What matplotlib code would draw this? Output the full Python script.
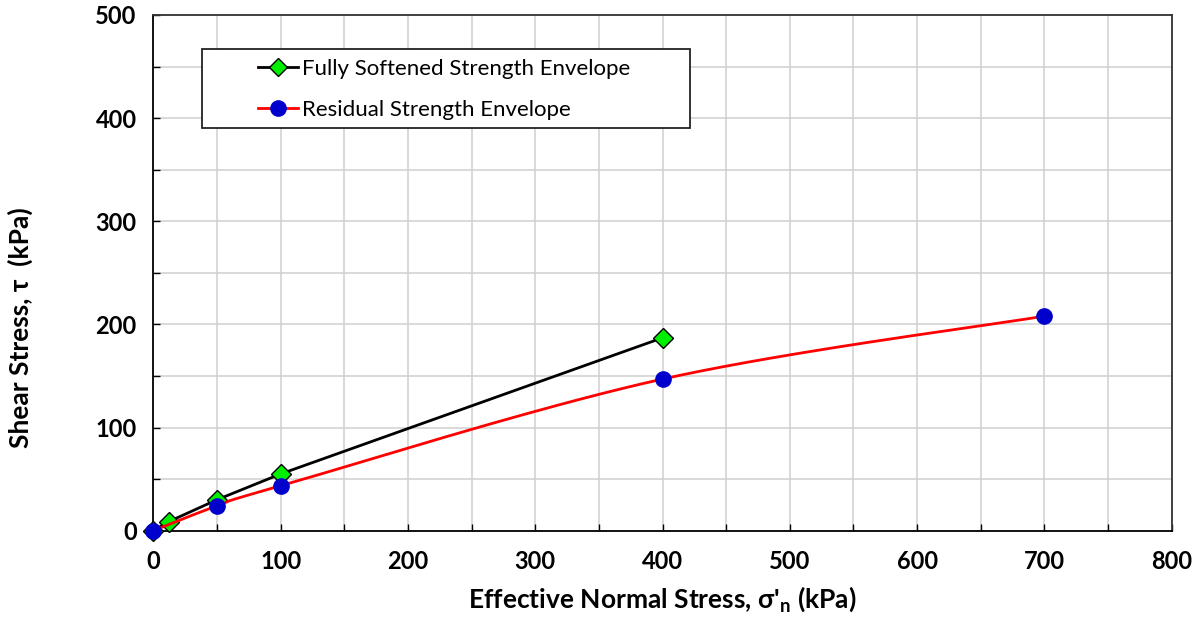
import numpy as np
import matplotlib
matplotlib.use("Agg")
import matplotlib.pyplot as plt
from matplotlib.patches import Rectangle
from matplotlib.ticker import MultipleLocator
from matplotlib.lines import Line2D

# ---- data ----
fs_x = [0, 12, 50, 100, 400]
fs_y = [0, 8.7, 30, 55, 187]
res_x = [0, 50, 100, 400, 700]
res_y = [0, 24, 43.5, 147, 208]
fs_label = "Fully Softened Strength Envelope"
res_label = "Residual Strength Envelope"
x_ticks = [0, 100, 200, 300, 400, 500, 600, 700, 800]
y_ticks = [0, 100, 200, 300, 400, 500]

plt.rcParams['font.family'] = ['Lato', 'DejaVu Sans']
plt.rcParams['mathtext.fontset'] = 'custom'
plt.rcParams['mathtext.rm'] = 'Lato'
plt.rcParams['mathtext.bf'] = 'Lato:bold'


def excel_smooth(xs, ys, n=40):
    P = np.column_stack([xs, ys]).astype(float)
    P_ext = np.vstack([P[0], P, P[-1]])
    out = []
    t = np.linspace(0, 1, n)[:, None]
    for i in range(len(P) - 1):
        p0, p1, p2, p3 = P_ext[i], P_ext[i + 1], P_ext[i + 2], P_ext[i + 3]
        c1 = p1 + (p2 - p0) / 6.0
        c2 = p2 - (p3 - p1) / 6.0
        seg = ((1 - t) ** 3) * p1 + 3 * ((1 - t) ** 2) * t * c1 + 3 * (1 - t) * t ** 2 * c2 + t ** 3 * p2
        out.append(seg if i == 0 else seg[1:])
    s = np.vstack(out)
    return s[:, 0], s[:, 1]


fig = plt.figure(figsize=(11.96, 6.17), dpi=100)
ax = fig.add_axes([0.1282, 0.1399, 0.9797 - 0.1282, 0.9757 - 0.1399])

ax.set_xlim(0, 800)
ax.set_ylim(0, 500)
ax.xaxis.set_minor_locator(MultipleLocator(50))
ax.yaxis.set_minor_locator(MultipleLocator(50))
ax.set_xticks(x_ticks)
ax.set_yticks(y_ticks)
ax.grid(True, which='both', color='#d0d0d0', linewidth=1.1, zorder=0)
ax.set_axisbelow(True)
ax.tick_params(which='both', direction='in', length=5, width=1.0, color='black')
ax.tick_params(axis='x', which='major', pad=14)
ax.tick_params(axis='y', which='major', pad=12)
for lab in ax.get_xticklabels() + ax.get_yticklabels():
    lab.set_fontweight('bold')
    lab.set_fontsize(17)
for sp in ax.spines.values():
    sp.set_linewidth(1.3)
    sp.set_color('black')
ax.spines['top'].set_color('#333333')
ax.spines['right'].set_color('#333333')

# fully softened (straight segments)
ax.plot(fs_x, fs_y, color='black', linewidth=2.0, zorder=3,
        marker='D', markersize=10, markerfacecolor='#00ee00',
        markeredgecolor='black', markeredgewidth=1.0, clip_on=False)

# residual (smoothed)
sx, sy = excel_smooth(res_x, res_y)
ax.plot(sx, sy, color='#ff0000', linewidth=2.0, zorder=4, clip_on=False)
ax.plot(res_x, res_y, linestyle='none', marker='o', markersize=11,
        markerfacecolor='#0000cc', markeredgecolor='#0000cc', zorder=5, clip_on=False)

ax.set_xlabel("Effective Normal Stress, σ'$_\\mathbf{n}$ (kPa)", fontsize=19,
              fontweight='bold', labelpad=8)
ax.set_ylabel("Shear Stress, τ  (kPa)", fontsize=19, fontweight='bold')
ax.yaxis.set_label_coords(-0.118, 0.393)

# legend
h1 = Line2D([], [], color='black', linewidth=2.0, marker='D', markersize=9,
            markerfacecolor='#00ee00', markeredgecolor='black', markeredgewidth=1.0)
h2 = Line2D([], [], color='#ff0000', linewidth=2.0, marker='o', markersize=11,
            markerfacecolor='#0000cc', markeredgecolor='#0000cc')
leg = ax.legend([h1, h2], [fs_label, res_label], loc='center left',
                bbox_to_anchor=(257.7 / 1196, 1 - 89.2 / 617),
                bbox_transform=fig.transFigure, frameon=False, fontsize=16,
                handlelength=1.8, handletextpad=0.2, labelspacing=0.95,
                borderpad=0, borderaxespad=0)
rect = Rectangle((0.0475, 0.780), 0.4795, 0.9335 - 0.780, transform=ax.transAxes,
                 facecolor='white', edgecolor='#222222', linewidth=1.3, zorder=6)
ax.add_patch(rect)
leg.set_zorder(7)

fig.savefig("out.png", dpi=100)
